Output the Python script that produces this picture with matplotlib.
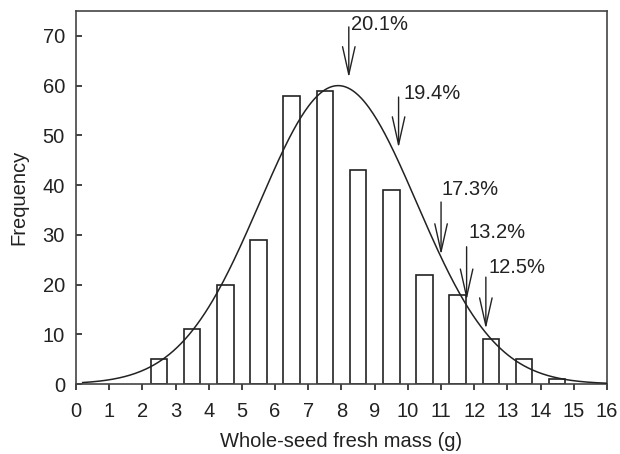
import matplotlib.pyplot as plt
import numpy as np

plt.rcParams['font.family'] = ['Liberation Sans', 'DejaVu Sans']

# bin centres (g) and frequencies
bin_centres = [2.5, 3.5, 4.5, 5.5, 6.5, 7.5, 8.5, 9.5, 10.5, 11.5, 12.5, 13.5, 14.5]
counts = [5, 11, 20, 29, 58, 59, 43, 39, 22, 18, 9, 5, 1]

# fitted normal curve parameters
fit_mean = 7.9
fit_sd = 2.37
fit_peak = 60

# arrow annotations: label, x, tip y, tail y, text x, text y
labels = ['20.1%', '19.4%', '17.3%', '13.2%', '12.5%']
arrow_x = [8.22, 9.72, 11.0, 11.77, 12.35]
arrow_tip = [61.6, 47.5, 26.0, 16.9, 11.1]
arrow_tail = [71.8, 57.7, 36.6, 27.6, 21.5]
text_x = [8.3, 9.88, 11.02, 11.82, 12.44]
text_y = [72.2, 58.5, 39.2, 30.4, 23.5]

ink = '#222222'
fs = 14.5

fig = plt.figure(figsize=(6.2, 4.54), dpi=100)
ax = fig.add_axes([0.1226, 0.154, 0.8564, 0.8218])

ax.bar(bin_centres, counts, width=0.5, facecolor='white', edgecolor=ink, linewidth=1.2, zorder=2)

xs = np.linspace(0.2, 16, 400)
ys = fit_peak * np.exp(-0.5 * ((xs - fit_mean) / fit_sd) ** 2)
ax.plot(xs, ys, color=ink, linewidth=1.1, zorder=3)

for lab, ax_x, tip, tail, tx, ty in zip(labels, arrow_x, arrow_tip, arrow_tail, text_x, text_y):
    ax.annotate('', xy=(ax_x, tip), xytext=(ax_x, tail),
                arrowprops=dict(arrowstyle='->,head_length=2.0,head_width=0.45',
                                mutation_scale=10, color=ink, linewidth=1.0,
                                shrinkA=0, shrinkB=0))
    ax.text(tx, ty, lab, fontsize=fs, color=ink, ha='left', va='center')

ax.set_xlim(0, 16)
ax.set_ylim(0, 75)
ax.set_xticks(np.arange(0, 17, 1))
ax.set_yticks(np.arange(0, 71, 10))
ax.tick_params(labelsize=fs, colors=ink, length=4, width=1.2)
ax.tick_params(axis='x', direction='out', pad=9)
ax.tick_params(axis='y', direction='in', pad=8)
for sp in ax.spines.values():
    sp.set_color('#444444')
    sp.set_linewidth(1.2)

ax.set_xlabel('Whole-seed fresh mass (g)', fontsize=fs, color=ink, labelpad=8)
ax.set_ylabel('Frequency', fontsize=fs, color=ink, labelpad=10)

fig.savefig('out.png', dpi=100)
